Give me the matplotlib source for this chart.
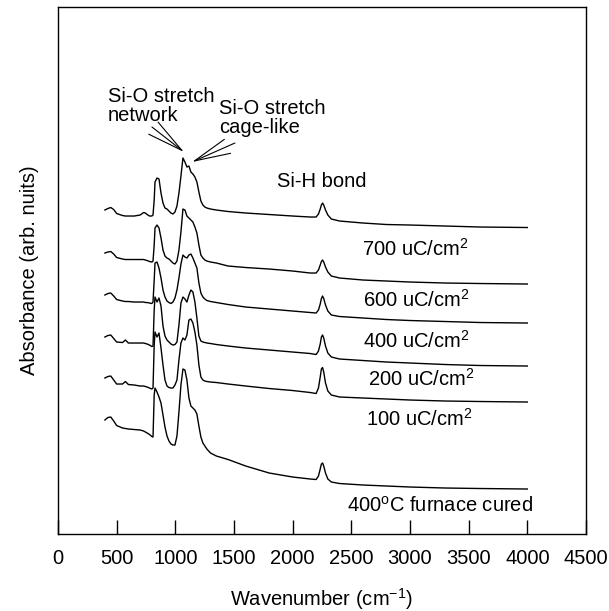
import matplotlib
matplotlib.use('Agg')
import matplotlib.pyplot as plt

plt.rcParams['font.family'] = ['Liberation Sans', 'DejaVu Sans']
plt.rcParams['mathtext.fontset'] = 'custom'
plt.rcParams['mathtext.rm'] = 'Liberation Sans'
plt.rcParams['mathtext.it'] = 'Liberation Sans:italic'
plt.rcParams['mathtext.default'] = 'regular'

# wavenumber grid (cm-1)
wavenumber = [400, 425, 450, 475, 500, 550, 575, 600, 650, 700,
              730, 745, 760, 780, 800, 810, 820, 827, 844, 861,
              878, 895, 912, 929, 946, 963, 980, 997, 1014, 1031,
              1048, 1065, 1082, 1099, 1116, 1133, 1150, 1167, 1184, 1201,
              1218, 1235, 1252, 1269, 1300, 1350, 1450, 1600, 1800, 2000,
              2150, 2200, 2220, 2235, 2245, 2255, 2265, 2280, 2300, 2330,
              2400, 2600, 2800, 3000, 3300, 3600, 4000]

# absorbance (arb. units, stacked) for each dose
abs_700 = [3.24, 3.255, 3.265, 3.245, 3.205, 3.185, 3.18, 3.18, 3.18, 3.19,
           3.215, 3.21, 3.195, 3.18, 3.18, 3.19, 3.34, 3.52, 3.56, 3.55,
           3.41, 3.31, 3.26, 3.25, 3.23, 3.21, 3.20, 3.22, 3.28, 3.41,
           3.58, 3.76, 3.72, 3.67, 3.68, 3.62, 3.60, 3.57, 3.52, 3.42,
           3.33, 3.29, 3.27, 3.26, 3.25, 3.24, 3.225, 3.21, 3.195, 3.18,
           3.17, 3.17, 3.20, 3.25, 3.29, 3.31, 3.29, 3.24, 3.19, 3.15,
           3.13, 3.11, 3.095, 3.09, 3.08, 3.07, 3.065]
abs_600 = [2.81, 2.82, 2.825, 2.80, 2.765, 2.75, 2.745, 2.745, 2.745, 2.745,
           2.745, 2.74, 2.735, 2.725, 2.72, 2.73, 2.89, 3.06, 3.09, 3.06,
           2.96, 2.84, 2.78, 2.76, 2.75, 2.73, 2.71, 2.70, 2.73, 2.84,
           3.02, 3.25, 3.24, 3.18, 3.16, 3.14, 3.12, 3.07, 3.01, 2.89,
           2.79, 2.76, 2.74, 2.73, 2.72, 2.71, 2.68, 2.665, 2.65, 2.63,
           2.61, 2.61, 2.64, 2.69, 2.725, 2.74, 2.72, 2.67, 2.62, 2.58,
           2.56, 2.54, 2.53, 2.52, 2.51, 2.505, 2.50]
abs_400 = [2.39, 2.405, 2.41, 2.38, 2.345, 2.33, 2.325, 2.325, 2.32, 2.32,
           2.32, 2.315, 2.315, 2.31, 2.305, 2.32, 2.54, 2.71, 2.72, 2.66,
           2.56, 2.44, 2.37, 2.33, 2.315, 2.305, 2.32, 2.36, 2.44, 2.56,
           2.70, 2.79, 2.77, 2.76, 2.79, 2.80, 2.76, 2.71, 2.66, 2.51,
           2.41, 2.37, 2.35, 2.335, 2.325, 2.315, 2.295, 2.27, 2.25, 2.23,
           2.215, 2.21, 2.24, 2.30, 2.355, 2.38, 2.355, 2.29, 2.23, 2.19,
           2.175, 2.16, 2.145, 2.135, 2.125, 2.115, 2.11]
abs_200 = [1.97, 1.985, 1.99, 1.955, 1.92, 1.915, 1.94, 1.91, 1.91, 1.91,
           1.91, 1.905, 1.90, 1.89, 1.875, 1.88, 2.24, 2.37, 2.32, 2.36,
           2.28, 2.08, 1.98, 1.94, 1.92, 1.90, 1.89, 1.895, 1.92, 2.09,
           2.31, 2.37, 2.35, 2.32, 2.39, 2.44, 2.42, 2.32, 2.16, 1.98,
           1.93, 1.92, 1.915, 1.91, 1.905, 1.895, 1.88, 1.86, 1.84, 1.82,
           1.805, 1.795, 1.83, 1.90, 1.97, 1.99, 1.96, 1.88, 1.81, 1.77,
           1.75, 1.735, 1.72, 1.71, 1.695, 1.685, 1.68]
abs_100 = [1.56, 1.575, 1.58, 1.54, 1.50, 1.50, 1.525, 1.495, 1.49, 1.48,
           1.48, 1.475, 1.47, 1.46, 1.45, 1.46, 1.89, 2.02, 1.97, 2.01,
           1.86, 1.69, 1.54, 1.48, 1.465, 1.46, 1.46, 1.49, 1.54, 1.74,
           1.91, 1.96, 1.94, 1.99, 2.14, 2.15, 2.11, 2.02, 1.89, 1.69,
           1.57, 1.54, 1.53, 1.525, 1.52, 1.515, 1.50, 1.48, 1.455, 1.435,
           1.415, 1.405, 1.46, 1.57, 1.65, 1.665, 1.62, 1.51, 1.43, 1.39,
           1.37, 1.36, 1.35, 1.34, 1.33, 1.325, 1.32]
abs_furnace = [1.14, 1.165, 1.17, 1.13, 1.085, 1.06, 1.055, 1.05, 1.045, 1.04,
               1.03, 1.02, 1.01, 0.995, 0.975, 0.97, 1.39, 1.46, 1.42, 1.37,
               1.31, 1.19, 1.07, 0.98, 0.93, 0.90, 0.89, 0.89, 0.98, 1.22,
               1.49, 1.65, 1.64, 1.54, 1.36, 1.28, 1.26, 1.24, 1.20, 1.08,
               0.97, 0.91, 0.88, 0.85, 0.81, 0.78, 0.745, 0.68, 0.61, 0.57,
               0.55, 0.545, 0.58, 0.65, 0.70, 0.71, 0.68, 0.61, 0.55, 0.52,
               0.505, 0.49, 0.48, 0.47, 0.46, 0.455, 0.45]

curves = [abs_700, abs_600, abs_400, abs_200, abs_100, abs_furnace]
curve_labels = ['700 uC/cm$^2$', '600 uC/cm$^2$', '400 uC/cm$^2$',
                '200 uC/cm$^2$', '100 uC/cm$^2$', '400$^o$C furnace cured']
label_pos = [(2590, 2.85), (2600, 2.34), (2600, 1.93),
             (2640, 1.55), (2625, 1.15), (2463, 0.28)]

fs = 14.5

fig = plt.figure(figsize=(6.09, 6.11), dpi=100)
ax = fig.add_axes([0.0952, 0.126, 0.867, 0.8625])

for y in curves:
    ax.plot(wavenumber, y, color='black', lw=1.0)

for txt, (x, y) in zip(curve_labels, label_pos):
    ax.text(x, y, txt, fontsize=fs, ha='left', va='center')

ax.text(2250, 3.53, 'Si-H bond', fontsize=fs, ha='center', va='center')
ax.text(426, 4.47, 'Si-O stretch\nnetwork', fontsize=fs, ha='left', va='top',
        linespacing=1.0)
ax.text(1372, 4.35, 'Si-O stretch\ncage-like', fontsize=fs, ha='left', va='top',
        linespacing=1.0)

arrow = dict(arrowstyle='->,head_length=2.6,head_width=0.55', lw=0.8,
             color='black', shrinkA=0, shrinkB=0, mutation_scale=10)
ax.annotate('', xy=(1074, 3.82), xytext=(801, 4.07), arrowprops=arrow)
ax.annotate('', xy=(1142, 3.72), xytext=(1508, 3.91), arrowprops=arrow)

ax.set_xlim(0, 4500)
ax.set_ylim(0, 5.27)
ax.set_xticks(range(0, 4501, 500))
ax.set_yticks([])
ax.tick_params(axis='x', direction='in', length=10, width=1, labelsize=fs, pad=11)
for s in ax.spines.values():
    s.set_linewidth(1.0)

ax.set_xlabel('Wavenumber (cm$^{-1}$)', fontsize=fs, labelpad=13)
ax.set_ylabel('Absorbance (arb. nuits)', fontsize=fs, labelpad=14)

fig.savefig('out.png', dpi=100)
